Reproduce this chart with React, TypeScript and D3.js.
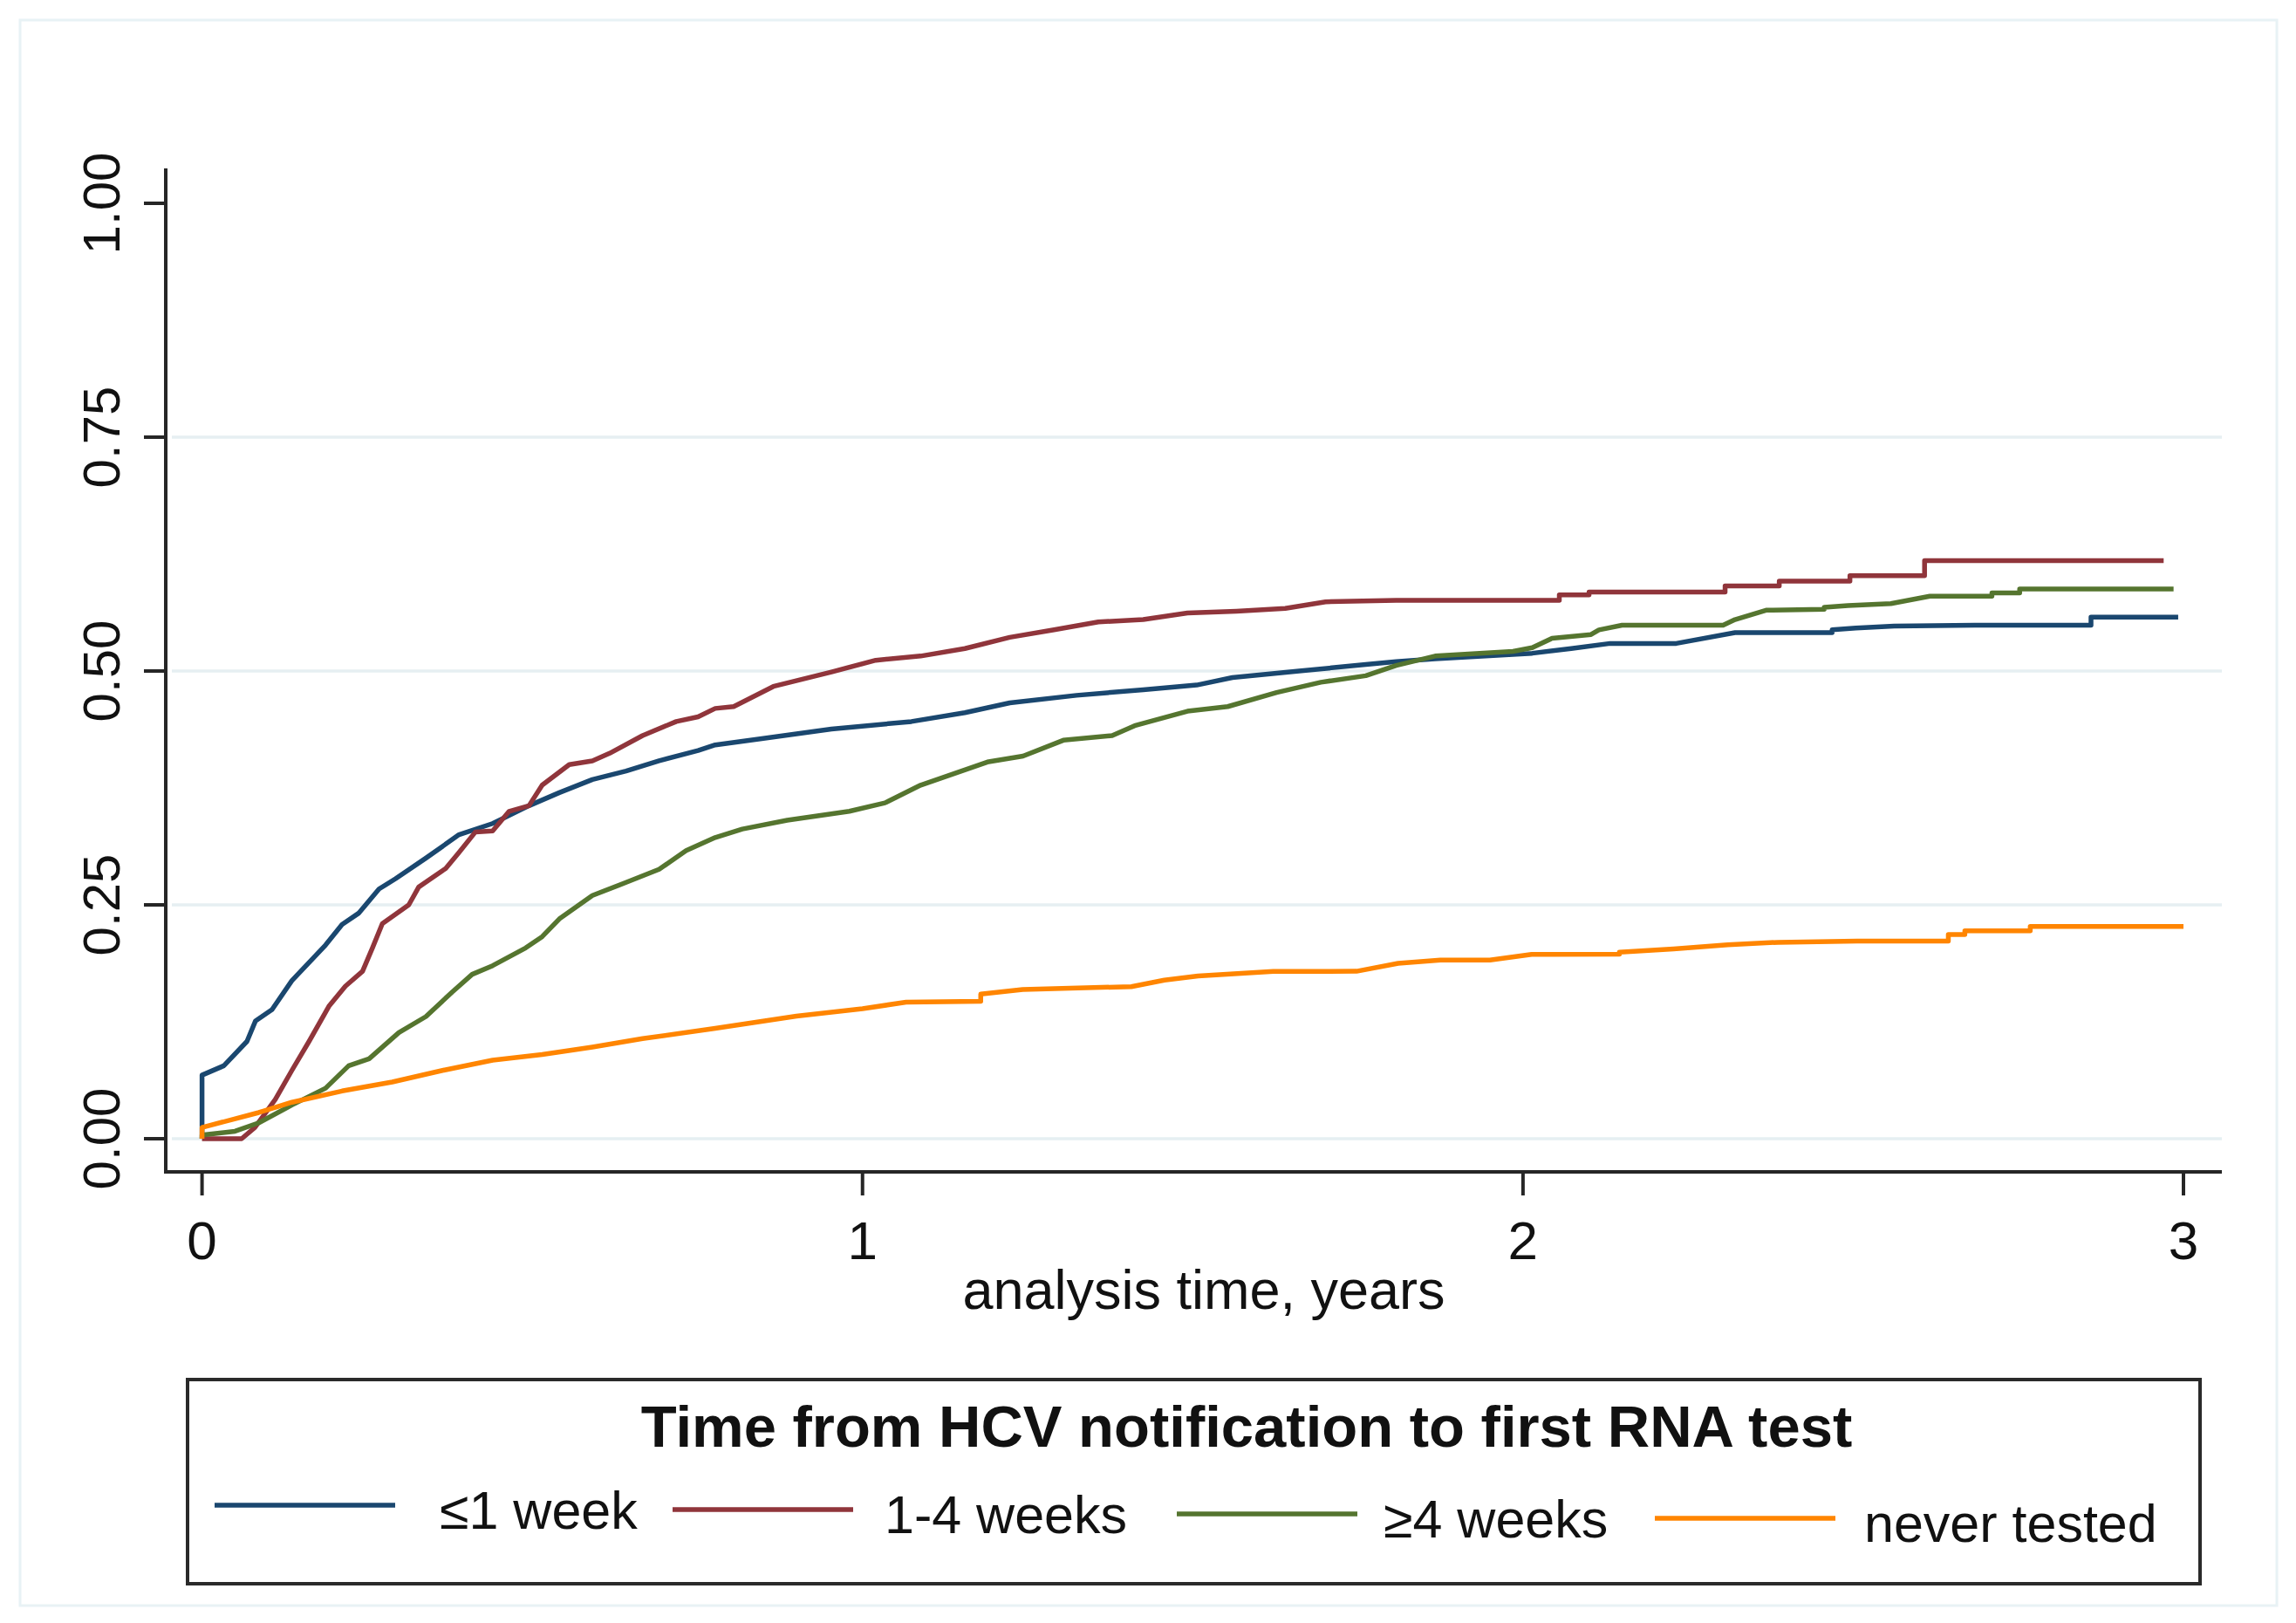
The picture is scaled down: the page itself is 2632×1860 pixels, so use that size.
import React, { useEffect, useRef } from 'react';
import * as d3 from 'd3';

// cumulative incidence, [years, proportion]
const blueSeries: [number, number][] = [
  [0, 0], [0, 0.068], [0.033, 0.078], [0.068, 0.104], [0.081, 0.126], [0.106, 0.138],
  [0.136, 0.169], [0.187, 0.207], [0.212, 0.229], [0.237, 0.241], [0.268, 0.267],
  [0.293, 0.278], [0.339, 0.3], [0.389, 0.325], [0.44, 0.337], [0.495, 0.356],
  [0.541, 0.37], [0.591, 0.384], [0.642, 0.393], [0.692, 0.404], [0.751, 0.415],
  [0.777, 0.421], [0.845, 0.4275], [0.953, 0.438], [1.074, 0.446], [1.155, 0.4555],
  [1.223, 0.466], [1.324, 0.474], [1.425, 0.48], [1.506, 0.485], [1.56, 0.493],
  [1.661, 0.5], [1.762, 0.507], [1.808, 0.51], [1.867, 0.513], [2.014, 0.519],
  [2.073, 0.524], [2.132, 0.5295], [2.232, 0.5295], [2.321, 0.541], [2.468, 0.541],
  [2.468, 0.544], [2.504, 0.546], [2.562, 0.548], [2.684, 0.549], [2.86, 0.549],
  [2.86, 0.5575], [2.992, 0.5575],
];

const redSeries: [number, number][] = [
  [0, 0], [0.06, 0], [0.08, 0.012], [0.111, 0.042], [0.136, 0.073], [0.162, 0.104],
  [0.192, 0.1415], [0.217, 0.163], [0.243, 0.179], [0.258, 0.204], [0.273, 0.23],
  [0.313, 0.25], [0.328, 0.269], [0.369, 0.289], [0.389, 0.306], [0.414, 0.328],
  [0.44, 0.329], [0.465, 0.35], [0.495, 0.356], [0.515, 0.378], [0.556, 0.4],
  [0.591, 0.404], [0.617, 0.412], [0.667, 0.431], [0.718, 0.446], [0.751, 0.451],
  [0.777, 0.46], [0.805, 0.462], [0.865, 0.4835], [0.953, 0.499], [1.02, 0.5115],
  [1.088, 0.516], [1.155, 0.524], [1.223, 0.536], [1.29, 0.544], [1.357, 0.5525],
  [1.425, 0.555], [1.492, 0.562], [1.566, 0.564], [1.64, 0.567], [1.701, 0.574],
  [1.808, 0.5755], [2.055, 0.5755], [2.055, 0.5815], [2.1, 0.5815], [2.1, 0.5845],
  [2.306, 0.5845], [2.306, 0.591], [2.388, 0.591], [2.388, 0.596], [2.495, 0.596],
  [2.495, 0.602], [2.608, 0.602], [2.608, 0.618], [2.97, 0.618],
];

const greenSeries: [number, number][] = [
  [0, 0], [0, 0.004], [0.05, 0.008], [0.086, 0.017], [0.136, 0.036], [0.187, 0.054],
  [0.222, 0.078], [0.253, 0.0855], [0.298, 0.1135], [0.339, 0.1306], [0.379, 0.157],
  [0.409, 0.1757], [0.44, 0.185], [0.49, 0.204], [0.515, 0.216], [0.541, 0.235],
  [0.591, 0.26], [0.642, 0.274], [0.692, 0.288], [0.733, 0.308], [0.777, 0.322],
  [0.818, 0.331], [0.886, 0.3405], [0.98, 0.35], [1.034, 0.359], [1.088, 0.378],
  [1.189, 0.4027], [1.243, 0.409], [1.304, 0.426], [1.378, 0.431], [1.412, 0.4415],
  [1.492, 0.457], [1.553, 0.462], [1.627, 0.477], [1.694, 0.488], [1.762, 0.495],
  [1.808, 0.506], [1.867, 0.516], [1.985, 0.521], [2.014, 0.525], [2.044, 0.535],
  [2.103, 0.539], [2.115, 0.544], [2.15, 0.549], [2.303, 0.549], [2.321, 0.555],
  [2.368, 0.565], [2.456, 0.566], [2.456, 0.568], [2.492, 0.57], [2.557, 0.572],
  [2.616, 0.58], [2.71, 0.58], [2.71, 0.5835], [2.752, 0.5835], [2.752, 0.5877],
  [2.985, 0.5877],
];

const orangeSeries: [number, number][] = [
  [0, 0], [0, 0.012], [0.086, 0.028], [0.136, 0.039], [0.212, 0.051], [0.288, 0.0606],
  [0.364, 0.073], [0.44, 0.084], [0.515, 0.09], [0.591, 0.098], [0.667, 0.107],
  [0.777, 0.118], [0.9, 0.131], [1.0, 0.139], [1.066, 0.146], [1.179, 0.147],
  [1.179, 0.1546], [1.2425, 0.1595], [1.407, 0.1626], [1.457, 0.1695], [1.508, 0.174],
  [1.622, 0.1788], [1.748, 0.179], [1.811, 0.1875], [1.875, 0.191], [1.95, 0.191],
  [2.013, 0.197], [2.146, 0.1974], [2.146, 0.1995], [2.228, 0.203], [2.31, 0.2074],
  [2.386, 0.21], [2.506, 0.2114], [2.644, 0.2114], [2.644, 0.2183], [2.669, 0.2183],
  [2.669, 0.2223], [2.768, 0.2223], [2.768, 0.227], [3.0, 0.227],
];

const seriesLabels = ['≤1 week', '1-4 weeks', '≥4 weeks', 'never tested'];
const seriesColors = ['#1a476f', '#90353b', '#55752f', '#ff8500'];
const xTicks = [0, 1, 2, 3];
const yTicks = [0, 0.25, 0.5, 0.75, 1];
const gridTicks = [0, 0.25, 0.5, 0.75];
const legendTitle = 'Time from HCV notification to first RNA test';
const xTitle = 'analysis time, years';

const W = 2632;
const H = 1860;
const FONT = '"Liberation Sans", Arial, Helvetica, sans-serif';

const Chart: React.FC = () => {
  const svgRef = useRef<SVGSVGElement>(null);

  useEffect(() => {
    if (!svgRef.current) return;
    const svg = d3.select(svgRef.current);
    svg.selectAll('*').remove();

    // outer frame
    svg.append('rect')
      .attr('x', 23).attr('y', 23)
      .attr('width', 2587).attr('height', 1817)
      .attr('fill', '#ffffff')
      .attr('stroke', '#e8f2f5')
      .attr('stroke-width', 3);

    const axisLeft = 190;
    const axisRight = 2547;
    const axisBottom = 1343;
    const axisTop = 193;

    const x = d3.scaleLinear().domain([0, 3]).range([231.6, 2503]);
    const y = d3.scaleLinear().domain([0, 1]).range([1305, 233]);

    // gridlines
    svg.append('g')
      .selectAll('line')
      .data(gridTicks)
      .enter()
      .append('line')
      .attr('x1', axisLeft + 7)
      .attr('x2', axisRight)
      .attr('y1', d => y(d))
      .attr('y2', d => y(d))
      .attr('stroke', '#e6eff2')
      .attr('stroke-width', 3.5);

    // curves
    const line = d3.line<[number, number]>()
      .x(d => x(d[0]))
      .y(d => y(d[1]))
      .curve(d3.curveLinear);

    const allSeries = [blueSeries, redSeries, greenSeries, orangeSeries];
    svg.append('g')
      .selectAll('path')
      .data(allSeries)
      .enter()
      .append('path')
      .attr('d', d => line(d))
      .attr('fill', 'none')
      .attr('stroke', (_, i) => seriesColors[i])
      .attr('stroke-width', 5.5)
      .attr('stroke-linejoin', 'round');

    // axes
    const axes = svg.append('g').attr('stroke', '#262626').attr('stroke-width', 4);
    axes.append('line')
      .attr('x1', axisLeft).attr('x2', axisLeft)
      .attr('y1', axisTop).attr('y2', axisBottom + 2);
    axes.append('line')
      .attr('x1', axisLeft - 2).attr('x2', axisRight)
      .attr('y1', axisBottom).attr('y2', axisBottom);

    axes.selectAll('.ytick')
      .data(yTicks)
      .enter()
      .append('line')
      .attr('x1', axisLeft - 25).attr('x2', axisLeft)
      .attr('y1', d => y(d)).attr('y2', d => y(d));

    axes.selectAll('.xtick')
      .data(xTicks)
      .enter()
      .append('line')
      .attr('x1', d => x(d)).attr('x2', d => x(d))
      .attr('y1', axisBottom).attr('y2', axisBottom + 27);

    const fmt = d3.format('.2f');
    svg.append('g')
      .selectAll('text')
      .data(yTicks)
      .enter()
      .append('text')
      .attr('transform', d => `translate(137, ${y(d)}) rotate(-90)`)
      .attr('text-anchor', 'middle')
      .attr('font-family', FONT)
      .attr('font-size', 60)
      .attr('fill', '#111')
      .text(d => fmt(d));

    svg.append('g')
      .selectAll('text')
      .data(xTicks)
      .enter()
      .append('text')
      .attr('x', d => x(d))
      .attr('y', 1443)
      .attr('text-anchor', 'middle')
      .attr('font-family', FONT)
      .attr('font-size', 62)
      .attr('fill', '#111')
      .text(d => d);

    svg.append('text')
      .attr('x', 1380)
      .attr('y', 1500)
      .attr('text-anchor', 'middle')
      .attr('font-family', FONT)
      .attr('font-size', 63)
      .attr('fill', '#111')
      .text(xTitle);

    // legend
    const legend = svg.append('g');
    legend.append('rect')
      .attr('x', 215).attr('y', 1581)
      .attr('width', 2307).attr('height', 234)
      .attr('fill', '#ffffff')
      .attr('stroke', '#2a2a2a')
      .attr('stroke-width', 4);

    legend.append('text')
      .attr('x', 1429)
      .attr('y', 1658)
      .attr('text-anchor', 'middle')
      .attr('font-family', FONT)
      .attr('font-weight', 'bold')
      .attr('font-size', 67)
      .attr('fill', '#111')
      .text(legendTitle);

    const keyStarts = [246, 771, 1349, 1897];
    const labelStarts = [504, 1014, 1586, 2137];
    const items = legend.selectAll('.item')
      .data(seriesLabels)
      .enter()
      .append('g')
      .attr('transform', (_, i) => `translate(0, ${1725 + i * 5})`);

    items.append('line')
      .attr('x1', (_, i) => keyStarts[i])
      .attr('x2', (_, i) => keyStarts[i] + 207)
      .attr('y1', 0).attr('y2', 0)
      .attr('stroke', (_, i) => seriesColors[i])
      .attr('stroke-width', 5.5);

    items.append('text')
      .attr('x', (_, i) => labelStarts[i])
      .attr('y', 27)
      .attr('font-family', FONT)
      .attr('font-size', 61)
      .attr('fill', '#111')
      .text(d => d);
  }, []);

  return <svg ref={svgRef} width={W} height={H} style={{ display: 'block' }} />;
};

export default function App() {
  useEffect(() => {
    document.body.style.margin = '0';
  }, []);
  return <Chart />;
}
